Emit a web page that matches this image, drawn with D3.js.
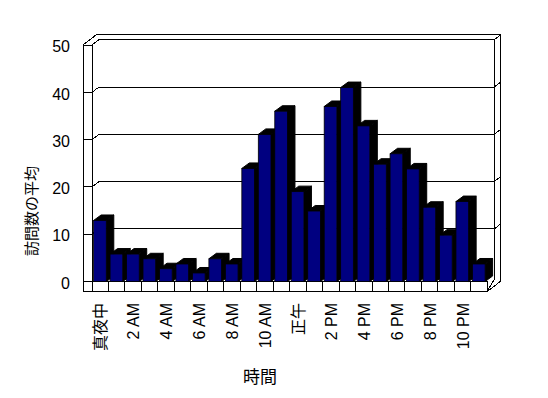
<!DOCTYPE html>
<html>
<head>
<meta charset="utf-8">
<script src="https://cdn.jsdelivr.net/npm/d3@7"></script>
<style>
  body { margin: 0; background: #fff; }
  text { font-family: "Liberation Sans", "Noto Sans CJK JP", sans-serif; fill: #000; }
</style>
</head>
<body>
<div id="chart"></div>
<script>
// hour categories (midnight .. 11 PM)
const hours = ["真夜中", "1 AM", "2 AM", "3 AM", "4 AM", "5 AM", "6 AM", "7 AM", "8 AM", "9 AM", "10 AM", "11 AM",
  "正午", "1 PM", "2 PM", "3 PM", "4 PM", "5 PM", "6 PM", "7 PM", "8 PM", "9 PM", "10 PM", "11 PM"];
// average visits per hour
const visits = [12.9, 5.8, 5.8, 4.8, 2.7, 3.7, 1.8, 4.8, 3.7, 23.9, 31.1, 36.0,
  19.0, 14.9, 37.0, 41.0, 32.9, 24.8, 27.0, 23.8, 15.7, 9.8, 16.9, 3.7];
const yTicks = [0, 10, 20, 30, 40, 50];
const shownLabels = hours.filter((d, i) => i % 2 === 0);

const W = 548, H = 398;
const svg = d3.select("#chart").append("svg")
  .attr("width", W).attr("height", H)
  .attr("viewBox", `0 0 ${W} ${H}`);

const xL0 = 83, xL = 92, xR = 487.3;
const yTop = 45, y0 = 281.5, yBot = 291.5;
const d1 = [7, -5.3], d2 = [13.4, -10.3];   // back wall inner / outer depth
const bd = [7.5, -5.5];                     // bar depth

const x = d3.scaleBand().domain(hours).range([xL, xR]).padding(0);
const y = d3.scaleLinear().domain([0, 50]).range([y0, yTop]);

const frame = svg.append("g")
  .attr("fill", "none").attr("stroke", "#000").attr("stroke-width", 1)
  .attr("shape-rendering", "crispEdges");
const line = d3.line();

// gridlines: wall tick, wall inner face, back wall, back wall side
yTicks.filter(v => v > 0).forEach(v => {
  const gy = y(v);
  frame.append("path").attr("d", line([
    [xL0, gy], [xL, gy], [xL + d1[0], gy + d1[1]], [xR + d1[0], gy + d1[1]], [xR + d2[0], gy + d2[1]]
  ]));
});

// top outline of walls
frame.append("path").attr("d", line([[xL0, yTop], [xL0 + d2[0], yTop + d2[1]], [xR + d2[0], yTop + d2[1]]]));
// left wall front face
frame.append("rect").attr("x", xL0).attr("y", yTop).attr("width", xL - xL0).attr("height", yBot - yTop);
frame.append("path").attr("d", line([[xL, y0], [xL, yTop]]));
// right edges
frame.append("path").attr("d", line([
  [xR + d1[0], yTop + d1[1]], [xR + d1[0], y0 - 2], [xR + 1, yBot - 2]
]));
frame.append("path").attr("d", line([
  [xR + d2[0], yTop + d2[1]], [xR + d2[0], yBot + d2[1]], [xR, yBot]
]));
// floor front face with category dividers
frame.append("path").attr("d", line([[xL0, y0], [xR, y0], [xR, yBot], [xL0, yBot]]));
hours.slice(1).forEach(h => {
  const xx = x(h);
  frame.append("path").attr("d", line([[xx, y0], [xx, yBot]]));
});

// bars
const bw = x.bandwidth() * 0.77, bo = 1.6;
const bars = svg.append("g");
hours.forEach((h, i) => {
  const x1 = x(h) + bo, x2 = x1 + bw, yt = y(visits[i]);
  const g = bars.append("g");
  g.append("path")
    .attr("d", line([[x2, yt], [x2 + bd[0], yt + bd[1]], [x2 + bd[0], y0 + bd[1]], [x2, y0]]) + "Z")
    .attr("fill", "#000").attr("stroke", "#000");
  g.append("path")
    .attr("d", line([[x1, yt], [x1 + bd[0], yt + bd[1]], [x2 + bd[0], yt + bd[1]], [x2, yt]]) + "Z")
    .attr("fill", "#000").attr("stroke", "#000");
  g.append("rect")
    .attr("x", x1).attr("y", yt).attr("width", bw).attr("height", y0 - yt)
    .attr("fill", "#000080").attr("stroke", "#000").attr("stroke-width", 0.8);
});

// y tick labels
svg.append("g").selectAll("text").data(yTicks).join("text")
  .attr("x", 70).attr("y", d => y(d) + 3)
  .attr("text-anchor", "end").attr("dominant-baseline", "middle")
  .style("font-size", "16px")
  .text(d => d);

// x tick labels (every 2 hours), rotated
svg.append("g").selectAll("text").data(shownLabels).join("text")
  .attr("transform", d => `translate(${x(d) + x.bandwidth() / 2 + 6},303) rotate(-90)`)
  .attr("text-anchor", "end")
  .style("font-size", "16px")
  .text(d => d);

// axis titles
svg.append("text")
  .attr("x", 260).attr("y", 383)
  .attr("text-anchor", "middle")
  .style("font-size", "17px")
  .text("時間");

svg.append("text")
  .attr("transform", "translate(37,211) rotate(-90)")
  .attr("text-anchor", "middle")
  .style("font-size", "15px")
  .text("訪問数の平均");
</script>
</body>
</html>
